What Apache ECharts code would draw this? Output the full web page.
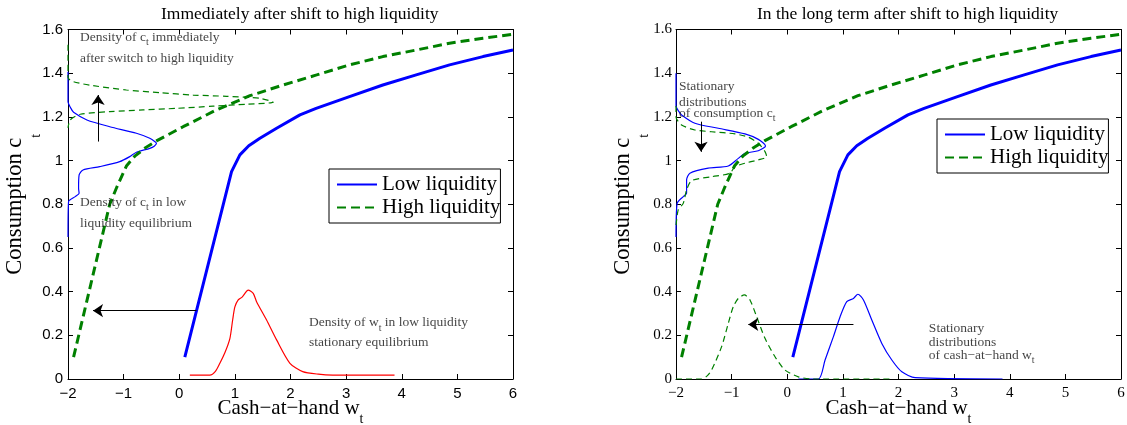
<!DOCTYPE html>
<html>
<head>
<meta charset="utf-8">
<script src="https://cdn.jsdelivr.net/npm/echarts@6/dist/echarts.min.js"></script>
<style>
html, body { margin: 0; padding: 0; background: #fff; }
#chart { width: 1127px; height: 425px; }
</style>
</head>
<body>
<div id="chart"></div>
<script>
// consumption policy c(w), same in both panels
var lowPolicy = [[0.1, 0.1], [0.94, 0.949], [1.09, 1.026], [1.25, 1.068], [1.45, 1.102], [1.75, 1.148],
    [2.17, 1.209], [2.46, 1.239], [3.06, 1.293], [3.66, 1.346], [4.26, 1.392], [4.86, 1.438],
    [5.46, 1.476], [6.0, 1.506]];
var highPolicy = [[-1.9, 0.1], [-1.25, 0.8], [-1.12, 0.88], [-0.95, 0.975], [-0.8, 1.02], [-0.6, 1.06],
    [-0.41, 1.09], [0.07, 1.155], [0.67, 1.232], [1.27, 1.297], [1.87, 1.346], [2.47, 1.392],
    [3.06, 1.438], [3.66, 1.476], [4.26, 1.506], [4.86, 1.537], [5.46, 1.56], [6.0, 1.578]];

// left panel densities (drawn sideways for c, along w for w)
var cDensLow = [[-2, 1.407], [-2, 1.27], [-1.95, 1.24], [-1.9, 1.221], [-1.66, 1.186], [-1.25, 1.155],
    [-0.77, 1.125], [-0.53, 1.102], [-0.43, 1.085], [-0.41, 1.079], [-0.45, 1.066], [-0.53, 1.056],
    [-0.77, 1.038], [-0.89, 1.018], [-1.07, 0.995], [-1.43, 0.972], [-1.73, 0.957], [-1.8, 0.934],
    [-1.81, 0.873], [-1.8, 0.85], [-1.87, 0.835], [-1.99, 0.812], [-2, 0.65]];
var cDensHighNow = [[-2, 1.53], [-2, 1.38], [-1.9, 1.361], [-1.55, 1.343], [-0.95, 1.323], [-0.35, 1.311],
    [0.25, 1.3], [0.85, 1.294], [1.45, 1.285], [1.69, 1.267], [1.21, 1.258], [0.61, 1.249],
    [-0.05, 1.239], [-0.65, 1.232], [-1.25, 1.224], [-1.78, 1.212], [-1.96, 1.186], [-2, 1.15]];
var wDensLow = [[0.19, 0.018], [0.55, 0.018], [0.65, 0.035], [0.73, 0.072], [0.82, 0.12], [0.91, 0.185],
    [0.96, 0.27], [1.0, 0.33], [1.06, 0.362], [1.13, 0.375], [1.24, 0.407], [1.33, 0.392], [1.39, 0.354],
    [1.57, 0.27], [1.75, 0.179], [1.99, 0.072], [2.22, 0.034], [2.5, 0.022], [2.76, 0.018], [3.87, 0.018]];

// right panel stationary densities
var cDensLowLong = [[-2, 1.4], [-2, 1.25], [-1.95, 1.225], [-1.9, 1.209], [-1.66, 1.171], [-1.24, 1.148],
    [-0.76, 1.122], [-0.52, 1.097], [-0.39, 1.067], [-0.52, 1.045], [-0.76, 1.033], [-0.88, 1.01],
    [-1.06, 0.975], [-1.42, 0.965], [-1.75, 0.942], [-1.81, 0.911], [-1.81, 0.85], [-1.87, 0.835],
    [-1.98, 0.804], [-2, 0.65]];
var cDensHighLong = [[-2, 1.25], [-2, 1.2], [-1.9, 1.163], [-1.66, 1.14], [-1.36, 1.132], [-0.94, 1.122],
    [-0.7, 1.107], [-0.52, 1.079], [-0.4, 1.041], [-0.37, 1.018], [-0.52, 1.003], [-0.73, 0.99],
    [-0.94, 0.972], [-1.03, 0.942], [-1.36, 0.926], [-1.72, 0.908], [-1.81, 0.865], [-1.87, 0.804],
    [-1.96, 0.774], [-2, 0.7]];
var wDensLowLong = [[0.2, 0], [0.56, 0], [0.68, 0.087], [0.83, 0.194], [0.95, 0.285], [1.07, 0.354],
    [1.19, 0.369], [1.27, 0.388], [1.37, 0.362], [1.52, 0.27], [1.7, 0.163], [1.88, 0.087],
    [2.06, 0.033], [2.3, 0.006], [3.87, 0]];
var wDensHighLong = [[-2, 0], [-1.54, 0], [-1.45, 0.012], [-1.36, 0.041], [-1.18, 0.148], [-1.06, 0.255],
    [-0.97, 0.331], [-0.88, 0.369], [-0.77, 0.385], [-0.67, 0.362], [-0.55, 0.285], [-0.4, 0.186],
    [-0.22, 0.102], [-0.04, 0.041], [0.2, 0.01], [0.44, 0], [1.9, 0]];

// arrows [from, to]
var arrowsLeft = [[[-1.46, 1.087], [-1.46, 1.30]], [[0.31, 0.313], [-1.55, 0.313]]];
var arrowsRight = [[[-1.55, 1.178], [-1.55, 1.04]], [[1.19, 0.25], [-0.70, 0.25]]];

// text notes [w, c, text]
var notesLeft = [
    [-1.785, 1.555, '{n|Density of c}{s|t}{n| immediately}'],
    [-1.785, 1.461, '{n|after switch to high liquidity}'],
    [-1.785, 0.80, '{n|Density of c}{s|t}{n| in low}'],
    [-1.785, 0.705, '{n|liquidity equilibrium}'],
    [2.332, 0.250, '{n|Density of w}{s|t}{n| in low liquidity}'],
    [2.332, 0.159, '{n|stationary equilibrium}']
];
var notesRight = [
    [-1.946, 1.331, '{n|Stationary}'],
    [-1.946, 1.261, '{n|distributions}'],
    [-1.946, 1.209, '{n|of consumption c}{s|t}'],
    [2.546, 0.225, '{n|Stationary}'],
    [2.546, 0.162, '{n|distributions}'],
    [2.546, 0.101, '{n|of cash\u2212at\u2212hand w}{s|t}']
];

var titles = ['Immediately after shift to high liquidity', 'In the long term after shift to high liquidity'];
var legendNames = ['Low liquidity', 'High liquidity'];
var xTicks = { min: -2, max: 6, interval: 1 };
var yTicks = { min: 0, max: 1.6, interval: 0.2 };

var SERIF = 'Liberation Serif';
var SANS = 'Liberation Sans';
var BLUE = '#0000ff', GREEN = '#008000', RED = '#ff0000';

var myChart = echarts.init(document.getElementById('chart'));

function fmtMinus(v) {
    return String(v).replace('-', '\u2212');
}

function xAxes(g, font) {
    return [{
        type: 'value', gridIndex: g, position: 'bottom',
        min: xTicks.min, max: xTicks.max, interval: xTicks.interval,
        axisLine: { onZero: false, lineStyle: { color: '#000', width: 1 } },
        axisTick: { inside: true, length: 5, lineStyle: { color: '#000' } },
        axisLabel: { margin: 7, color: '#000', fontFamily: font, fontSize: 15, formatter: fmtMinus },
        splitLine: { show: false },
        name: '{n|Cash\u2212at\u2212hand w}{s|t}',
        nameLocation: 'middle', nameGap: 19, nameMoveOverlap: false,
        nameTextStyle: {
            rich: {
                n: { fontFamily: SERIF, fontSize: 21, color: '#000', lineHeight: 28, verticalAlign: 'top' },
                s: { fontFamily: SERIF, fontSize: 14, color: '#000', verticalAlign: 'bottom' }
            }
        }
    }, {
        type: 'value', gridIndex: g, position: 'top',
        min: xTicks.min, max: xTicks.max, interval: xTicks.interval,
        axisLine: { onZero: false, lineStyle: { color: '#000', width: 1 } },
        axisTick: { inside: true, length: 5, lineStyle: { color: '#000' } },
        axisLabel: { show: false },
        splitLine: { show: false }
    }];
}

function yAxes(g, font, margin) {
    return [{
        type: 'value', gridIndex: g, position: 'left',
        min: yTicks.min, max: yTicks.max, interval: yTicks.interval,
        axisLine: { onZero: false, lineStyle: { color: '#000', width: 1 } },
        axisTick: { inside: true, length: 5, lineStyle: { color: '#000' } },
        axisLabel: { margin: margin, color: '#000', fontFamily: font, fontSize: 15 },
        splitLine: { show: false },
        name: '{n|Consumption c}{s|t}',
        nameLocation: 'middle', nameRotate: 90, nameGap: 25, nameMoveOverlap: false,
        nameTextStyle: {
            rich: {
                n: { fontFamily: SERIF, fontSize: 22.5, color: '#000', lineHeight: 39, verticalAlign: 'top' },
                s: { fontFamily: SERIF, fontSize: 14, color: '#000', verticalAlign: 'bottom' }
            }
        }
    }, {
        type: 'value', gridIndex: g, position: 'right',
        min: yTicks.min, max: yTicks.max, interval: yTicks.interval,
        axisLine: { onZero: false, lineStyle: { color: '#000', width: 1 } },
        axisTick: { inside: true, length: 5, lineStyle: { color: '#000' } },
        axisLabel: { show: false },
        splitLine: { show: false }
    }];
}

function curve(name, data, g, color, width, dash, smooth) {
    return {
        name: name, type: 'line', xAxisIndex: 2 * g, yAxisIndex: 2 * g,
        data: data, symbol: 'none', smooth: smooth || false, silent: true,
        lineStyle: { color: color, width: width, type: dash || 'solid' },
        itemStyle: { color: color },
        z: 3
    };
}

function arrows(list, g) {
    return {
        type: 'lines', coordinateSystem: 'cartesian2d', xAxisIndex: 2 * g, yAxisIndex: 2 * g,
        silent: true, symbol: ['none', 'arrow'], symbolSize: 10,
        lineStyle: { color: '#000', width: 1, curveness: 0, opacity: 1 },
        data: list.map(function (a) { return { coords: a }; }),
        z: 4
    };
}

function notes(list, g) {
    return {
        type: 'scatter', xAxisIndex: 2 * g, yAxisIndex: 2 * g, silent: true,
        symbolSize: 0, itemStyle: { color: 'transparent' },
        data: list.map(function (t) {
            return { value: [t[0], t[1]], label: { formatter: t[2] } };
        }),
        label: {
            show: true, position: 'right', distance: 0,
            rich: {
                n: { fontFamily: SERIF, fontSize: 13.5, color: '#111', lineHeight: 17, verticalAlign: 'top' },
                s: { fontFamily: SERIF, fontSize: 10, color: '#111', verticalAlign: 'bottom' }
            }
        },
        z: 5
    };
}

function legendAt(left, top) {
    return {
        data: legendNames, orient: 'vertical', left: left, top: top,
        itemWidth: 40, itemHeight: 20, itemGap: 2,
        padding: [5, 0, 5, 7],
        backgroundColor: '#fff', borderColor: '#000', borderWidth: 1, borderRadius: 0,
        itemStyle: { opacity: 0 },
        textStyle: { fontFamily: SERIF, fontSize: 21, color: '#000' },
        selectedMode: false
    };
}

var titleStyle = { fontFamily: SERIF, fontSize: 17.5, fontWeight: 'normal', color: '#000' };

var option = {
    backgroundColor: '#fff',
    animation: false,
    title: [
        { text: titles[0], left: 161, top: 5, padding: 0, textStyle: titleStyle },
        { text: titles[1], left: 757, top: 5, padding: 0, textStyle: titleStyle }
    ],
    legend: [legendAt(329, 169), legendAt(937, 119)],
    grid: [
        { left: 68, right: 614, top: 29.5, bottom: 46, containLabel: false, outerBoundsMode: 'none' },
        { left: 676, right: 6, top: 29.5, bottom: 46, containLabel: false, outerBoundsMode: 'none' }
    ],
    xAxis: xAxes(0, SANS).concat(xAxes(1, SERIF)),
    yAxis: yAxes(0, SANS, 5).concat(yAxes(1, SERIF, 4)),
    series: [
        curve('cDensLow', cDensLow, 0, BLUE, 1.2, 'solid', 0.25),
        curve('cDensHighNow', cDensHighNow, 0, GREEN, 1.2, [6, 4], 0.25),
        curve('wDensLow', wDensLow, 0, RED, 1.2, 'solid', 0.25),
        curve('Low liquidity', lowPolicy, 0, BLUE, 3),
        curve('High liquidity', highPolicy, 0, GREEN, 3, [9, 5]),
        arrows(arrowsLeft, 0),
        notes(notesLeft, 0),

        curve('cDensLowLong', cDensLowLong, 1, BLUE, 1.2, 'solid', 0.25),
        curve('cDensHighLong', cDensHighLong, 1, GREEN, 1.2, [6, 4], 0.25),
        curve('wDensLowLong', wDensLowLong, 1, BLUE, 1.2, 'solid', 0.25),
        curve('wDensHighLong', wDensHighLong, 1, GREEN, 1.2, [6, 4], 0.25),
        curve('Low liquidity', lowPolicy, 1, BLUE, 3),
        curve('High liquidity', highPolicy, 1, GREEN, 3, [9, 5]),
        arrows(arrowsRight, 1),
        notes(notesRight, 1)
    ]
};

myChart.setOption(option);
</script>
</body>
</html>
